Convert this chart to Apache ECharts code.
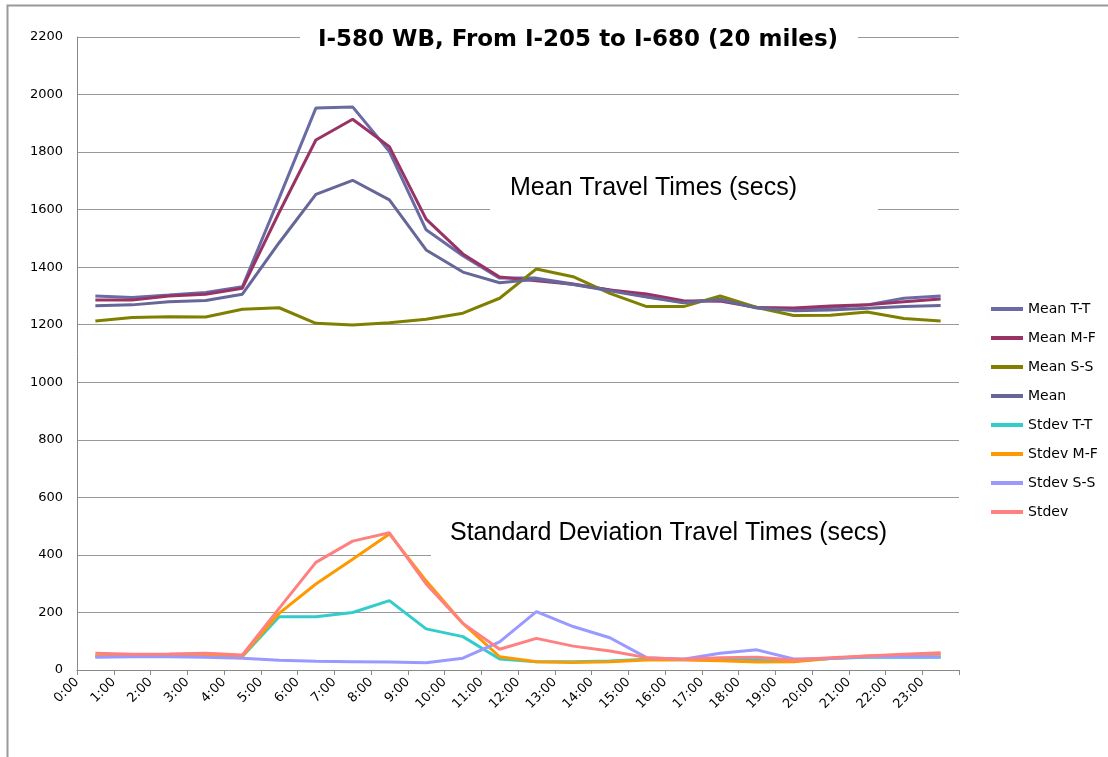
<!DOCTYPE html>
<html>
<head>
<meta charset="utf-8">
<script src="https://cdn.jsdelivr.net/npm/echarts@6/dist/echarts.min.js"></script>
<style>html,body{margin:0;padding:0;background:#fff}#c{width:1108px;height:757px}</style>
</head>
<body>
<div id="c"></div>
<script>
var hours = ['0:00','1:00','2:00','3:00','4:00','5:00','6:00','7:00','8:00','9:00','10:00','11:00','12:00','13:00','14:00','15:00','16:00','17:00','18:00','19:00','20:00','21:00','22:00','23:00'];
var yTicks = [0,200,400,600,800,1000,1200,1400,1600,1800,2000,2200];
var seriesNames = ['Mean T-T','Mean M-F','Mean S-S','Mean','Stdev T-T','Stdev M-F','Stdev S-S','Stdev'];
var meanTT = [1300,1295,1303,1312,1332,1640,1953,1957,1802,1530,1440,1362,1362,1342,1321,1298,1278,1289,1260,1254,1260,1269,1292,1300];
var meanMF = [1286,1286,1300,1306,1327,1590,1842,1914,1819,1567,1446,1366,1353,1341,1321,1307,1283,1282,1260,1258,1265,1269,1280,1289];
var meanSS = [1213,1225,1228,1227,1254,1259,1205,1199,1207,1219,1240,1292,1394,1367,1309,1263,1263,1300,1260,1232,1233,1244,1222,1213];
var meanAll = [1266,1269,1280,1284,1306,1485,1653,1702,1634,1460,1383,1346,1358,1340,1318,1296,1276,1287,1258,1249,1251,1257,1263,1267];
var stdevTT = [48,48,48,48,47,185,185,200,241,143,116,38,29,29,31,37,37,35,33,31,40,44,44,44];
var stdevMF = [49,47,47,49,49,197,299,385,473,310,162,46,29,26,29,35,35,32,28,29,40,49,52,56];
var stdevSS = [44,46,46,44,41,34,30,29,28,25,41,98,203,151,112,43,37,58,70,38,40,46,46,46];
var stdevAll = [58,55,56,58,52,214,374,448,477,299,162,72,110,83,66,43,37,43,44,35,43,49,55,60];
var colors = ['#6A6AA5','#993366','#808000','#666699','#33CCCC','#FF9900','#9999FF','#FF8080'];
var allData = [meanTT, meanMF, meanSS, meanAll, stdevTT, stdevMF, stdevSS, stdevAll];

function toPoints(arr){ return arr.map(function(v,i){ return [i + 0.5, v]; }); }

var chart = echarts.init(document.getElementById('c'));
var font = 'DejaVu Sans';
chart.setOption({
  animation: false,
  backgroundColor: '#fff',
  color: colors,
  grid: { left: 77, top: 37, right: 149, bottom: 87, containLabel: false },
  xAxis: {
    type: 'value', min: 0, max: 24, interval: 1,
    axisLine: { show: true, lineStyle: { color: '#888', width: 1 } },
    axisTick: { show: true, length: 5, lineStyle: { color: '#888' } },
    splitLine: { show: false },
    axisLabel: {
      rotate: 45, margin: 10, color: '#000', fontFamily: font, fontSize: 13,
      formatter: function(v){ return hours[v] !== undefined ? hours[v] : ''; }
    }
  },
  yAxis: {
    type: 'value', min: yTicks[0], max: yTicks[yTicks.length-1], interval: 200,
    axisLine: { show: true, lineStyle: { color: '#888', width: 1 } },
    axisTick: { show: false },
    splitLine: { show: true, lineStyle: { color: '#999', width: 1 } },
    axisLabel: { color: '#000', fontFamily: font, fontSize: 13, margin: 14, formatter: function(v){ return String(v); } }
  },
  legend: {
    orient: 'vertical', left: 986, top: 297,
    itemWidth: 32, itemHeight: 4, itemGap: 15,
    icon: 'rect',
    textStyle: { fontFamily: font, fontSize: 14, color: '#000' },
    data: seriesNames
  },
  graphic: [
    { type: 'rect', z: 100, shape: { x: 7.5, y: 5.5, width: 1200, height: 900 }, style: { fill: 'none', stroke: '#999', lineWidth: 2 } },
    { type: 'rect', z: 10, shape: { x: 300, y: 20, width: 558, height: 38 }, style: { fill: '#fff' } },
    { type: 'text', z: 11, style: { x: 578, y: 40, text: 'I-580 WB, From I-205 to I-680 (20 miles)', align: 'center', verticalAlign: 'middle', font: 'bold 23px "DejaVu Sans"', fill: '#000' } },
    { type: 'rect', z: 10, shape: { x: 490, y: 166, width: 388, height: 46 }, style: { fill: '#fff' } },
    { type: 'text', z: 11, style: { x: 510, y: 188, text: 'Mean Travel Times (secs)', align: 'left', verticalAlign: 'middle', font: '25px "Liberation Sans"', fill: '#000' } },
    { type: 'rect', z: 10, shape: { x: 431, y: 510, width: 540, height: 47 }, style: { fill: '#fff' } },
    { type: 'text', z: 11, style: { x: 450, y: 533, text: 'Standard Deviation Travel Times (secs)', align: 'left', verticalAlign: 'middle', font: '25px "Liberation Sans"', fill: '#000' } }
  ],
  series: seriesNames.map(function(name, k){
    return {
      name: name, type: 'line', data: toPoints(allData[k]),
      symbol: 'none', showSymbol: false, z: 20 + k,
      lineStyle: { width: 3, color: colors[k] },
      itemStyle: { color: colors[k] }
    };
  })
});
</script>
</body>
</html>
